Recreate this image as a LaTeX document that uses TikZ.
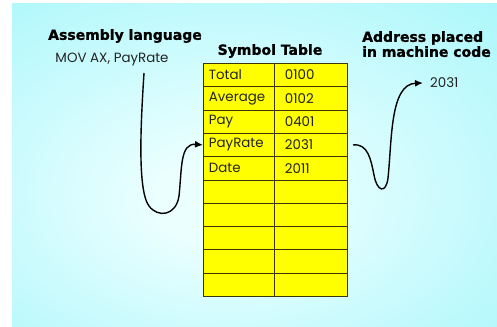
\documentclass[tikz,border=0pt]{standalone}
\usepackage{fontspec}
\setmainfont{Poppins}
\newfontfamily\headfont{DejaVu Sans}[BoldFeatures={FakeBold=1.2}]
\usetikzlibrary{arrows.meta,calc}
\definecolor{bgout}{RGB}{155,245,250}
\definecolor{bgin}{RGB}{236,255,255}
\definecolor{linec}{RGB}{60,55,10}
\definecolor{txtc}{RGB}{35,35,35}
\definecolor{celly}{RGB}{255,255,0}
\pgfdeclareradialshading{bgshade}{\pgfpoint{-4bp}{-6bp}}{color(0bp)=(bgin); color(6bp)=(bgin); color(48bp)=(bgout); color(75bp)=(bgout)}
\tikzset{
  head/.style={font=\headfont\bfseries\fontsize{14}{16}\selectfont, text=black, inner sep=0pt},
  body/.style={font=\fontsize{13.4}{15}\selectfont, text=txtc, inner sep=0pt},
  cellbase/.style={draw=linec, line width=0.8pt, fill=celly, minimum height=23.3pt, anchor=north west, font=\fontsize{13.4}{15}\selectfont, text=txtc, align=left},
  lcell/.style={cellbase, minimum width=71pt, text width=60pt, inner xsep=5.5pt},
  rcell/.style={cellbase, minimum width=73pt, text width=52pt, inner xsep=10.5pt},
  conn/.style={line width=1.4pt, black, -{Latex[length=8pt,width=7pt]}}
}
\begin{document}
\begin{tikzpicture}[x=1pt,y=-1pt]
\useasboundingbox (0,0) rectangle (497,326);
\fill[white] (0,0) rectangle (497,326);
\shade[shading=bgshade] (12,4) rectangle (497,326);
% headings
\node[head] (asm) at (125,36) {Assembly language};
\node[body] (mov) at (112,60) {MOV AX, PayRate};
\node[head] (sym) at (270,51) {Symbol Table};
\node[head, align=left, anchor=north west] (addr) at (362,31) {Address placed\\[-1pt]in machine code};
\node[body, anchor=west] (code) at (430,83) {2031};
% table
\foreach \i/\a/\b in {1/Total/0100,2/Average/0102,3/Pay/0401,4/PayRate/2031,5/Date/2011,6//,7//,8//,9//,10//}{
  \node[lcell] (l\i) at (203,{63+23.3*(\i-1)}) {\a};
  \node[rcell] (r\i) at (274,{63+23.3*(\i-1)}) {\b};
}
% connectors
\coordinate (s1) at (144,73);
\coordinate (s2) at (353,145);
\draw[conn] (s1) .. controls (141,120) and (137,190) .. (149,206)
  .. controls (158,218) and (176,216) .. (179,196)
  .. controls (182,168) and (180,143) .. (l4.west);
\draw[conn] (s2) .. controls (368,143) and (371,160) .. (374,175)
  .. controls (377,192) and (386,194) .. (388,178)
  .. controls (392,140) and (390,84) .. ($(code.west)+(-7,0)$);
\end{tikzpicture}
\end{document}
